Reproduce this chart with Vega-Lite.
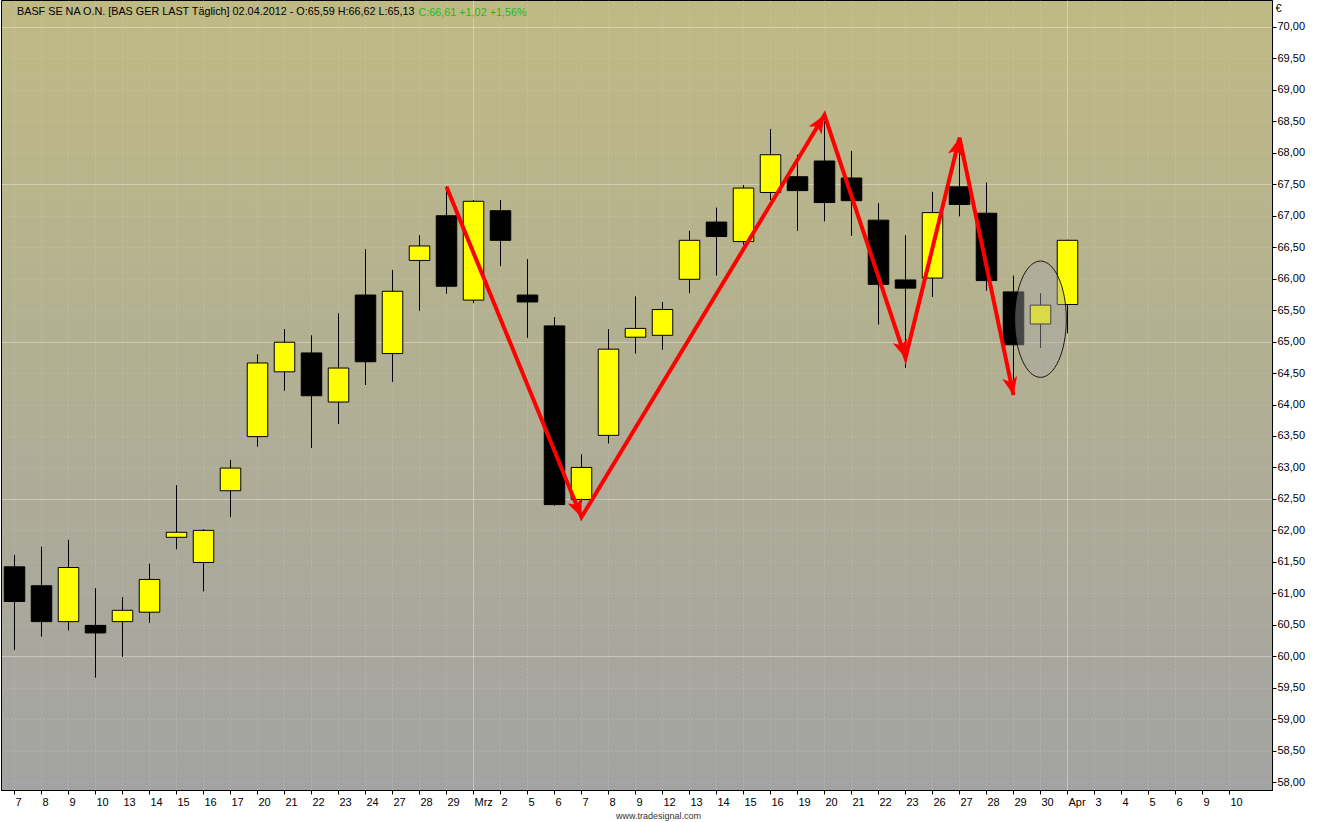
{
  "$schema": "https://vega.github.io/schema/vega-lite/v6.json",
  "width": 1271,
  "height": 790,
  "autosize": {"type": "none"},
  "padding": {"left": 1, "top": 0, "right": 47, "bottom": 32},
  "background": "#ffffff",
  "view": {
    "stroke": "#000000",
    "strokeWidth": 1,
    "fill": {
      "gradient": "linear", "x1": 0, "y1": 0, "x2": 0, "y2": 1,
      "stops": [
        {"offset": 0, "color": "#bfba84"},
        {"offset": 1, "color": "#a3a3a3"}
      ]
    }
  },
  "title": {
    "text": "BASF SE NA O.N. [BAS GER LAST Täglich] 02.04.2012 - O:65,59 H:66,62 L:65,13",
    "anchor": "start", "frame": "group", "offset": 0, "dx": 16, "dy": 26,
    "baseline": "alphabetic",
    "font": "Liberation Sans", "fontSize": 10.8, "fontWeight": "normal", "color": "#000000"
  },
  "datasets": {
    "candles": [
      {"d": "2012-02-07", "o": 61.42, "h": 61.61, "l": 60.10, "c": 60.87},
      {"d": "2012-02-08", "o": 61.12, "h": 61.74, "l": 60.31, "c": 60.55},
      {"d": "2012-02-09", "o": 60.55, "h": 61.85, "l": 60.41, "c": 61.41},
      {"d": "2012-02-10", "o": 60.49, "h": 61.08, "l": 59.66, "c": 60.37},
      {"d": "2012-02-13", "o": 60.55, "h": 60.94, "l": 59.99, "c": 60.73},
      {"d": "2012-02-14", "o": 60.70, "h": 61.47, "l": 60.53, "c": 61.22},
      {"d": "2012-02-15", "o": 61.89, "h": 62.72, "l": 61.70, "c": 61.97},
      {"d": "2012-02-16", "o": 61.49, "h": 62.02, "l": 61.03, "c": 62.00},
      {"d": "2012-02-17", "o": 62.63, "h": 63.12, "l": 62.21, "c": 62.99},
      {"d": "2012-02-20", "o": 63.49, "h": 64.80, "l": 63.33, "c": 64.66},
      {"d": "2012-02-21", "o": 64.52, "h": 65.20, "l": 64.22, "c": 64.99},
      {"d": "2012-02-22", "o": 64.82, "h": 65.10, "l": 63.31, "c": 64.14},
      {"d": "2012-02-23", "o": 64.04, "h": 65.45, "l": 63.69, "c": 64.58},
      {"d": "2012-02-24", "o": 65.74, "h": 66.47, "l": 64.31, "c": 64.68},
      {"d": "2012-02-27", "o": 64.81, "h": 66.14, "l": 64.36, "c": 65.80},
      {"d": "2012-02-28", "o": 66.29, "h": 66.69, "l": 65.49, "c": 66.52},
      {"d": "2012-02-29", "o": 67.00, "h": 67.47, "l": 65.76, "c": 65.88},
      {"d": "2012-03-01", "o": 65.66, "h": 67.25, "l": 65.61, "c": 67.23},
      {"d": "2012-03-02", "o": 67.08, "h": 67.25, "l": 66.20, "c": 66.61},
      {"d": "2012-03-05", "o": 65.74, "h": 66.31, "l": 65.06, "c": 65.63},
      {"d": "2012-03-06", "o": 65.25, "h": 65.39, "l": 62.39, "c": 62.41},
      {"d": "2012-03-07", "o": 62.49, "h": 63.21, "l": 62.45, "c": 63.00},
      {"d": "2012-03-08", "o": 63.51, "h": 65.20, "l": 63.38, "c": 64.88},
      {"d": "2012-03-09", "o": 65.07, "h": 65.72, "l": 64.81, "c": 65.21},
      {"d": "2012-03-12", "o": 65.10, "h": 65.63, "l": 64.87, "c": 65.51},
      {"d": "2012-03-13", "o": 65.99, "h": 66.76, "l": 65.77, "c": 66.61},
      {"d": "2012-03-14", "o": 66.90, "h": 67.13, "l": 66.05, "c": 66.67},
      {"d": "2012-03-15", "o": 66.59, "h": 67.49, "l": 66.54, "c": 67.44},
      {"d": "2012-03-16", "o": 67.37, "h": 68.38, "l": 67.25, "c": 67.97},
      {"d": "2012-03-19", "o": 67.62, "h": 67.97, "l": 66.76, "c": 67.40},
      {"d": "2012-03-20", "o": 67.87, "h": 68.50, "l": 66.91, "c": 67.21},
      {"d": "2012-03-21", "o": 67.60, "h": 68.03, "l": 66.68, "c": 67.24},
      {"d": "2012-03-22", "o": 66.93, "h": 67.20, "l": 65.27, "c": 65.91},
      {"d": "2012-03-23", "o": 65.98, "h": 66.69, "l": 64.58, "c": 65.85},
      {"d": "2012-03-26", "o": 66.01, "h": 67.38, "l": 65.71, "c": 67.05},
      {"d": "2012-03-27", "o": 67.46, "h": 68.20, "l": 66.99, "c": 67.18},
      {"d": "2012-03-28", "o": 67.04, "h": 67.53, "l": 65.81, "c": 65.97},
      {"d": "2012-03-29", "o": 65.79, "h": 66.05, "l": 64.30, "c": 64.95},
      {"d": "2012-03-30", "o": 65.28, "h": 65.77, "l": 64.90, "c": 65.58},
      {"d": "2012-04-02", "o": 65.59, "h": 66.62, "l": 65.13, "c": 66.61}
    ],
    "arrows": [
      {"d": "2012-02-29", "v": 67.46},
      {"d": "2012-03-07", "v": 62.21},
      {"d": "2012-03-20", "v": 68.60},
      {"d": "2012-03-23", "v": 64.74},
      {"d": "2012-03-27", "v": 68.24},
      {"d": "2012-03-29", "v": 64.15}
    ],
    "highlight": [
      {"d": "2012-03-30", "v": 65.356}
    ]
  },
  "resolve": {"axis": {"x": "independent", "y": "independent"}},
  "layer": [
    {
      "data": {"name": "candles"},
      "mark": {"type": "rule", "color": "#000000", "strokeWidth": 1},
      "encoding": {
        "x": {
          "field": "d", "type": "ordinal",
          "scale": {"type": "band", "domain": ["2012-02-07","2012-02-08","2012-02-09","2012-02-10","2012-02-13","2012-02-14","2012-02-15","2012-02-16","2012-02-17","2012-02-20","2012-02-21","2012-02-22","2012-02-23","2012-02-24","2012-02-27","2012-02-28","2012-02-29","2012-03-01","2012-03-02","2012-03-05","2012-03-06","2012-03-07","2012-03-08","2012-03-09","2012-03-12","2012-03-13","2012-03-14","2012-03-15","2012-03-16","2012-03-19","2012-03-20","2012-03-21","2012-03-22","2012-03-23","2012-03-26","2012-03-27","2012-03-28","2012-03-29","2012-03-30","2012-04-02","2012-04-03","2012-04-04","2012-04-05","2012-04-06","2012-04-09","2012-04-10"], "paddingInner": 0, "paddingOuter": 0.537, "align": 0},
          "axis": {
            "orient": "bottom",
            "title": "www.tradesignal.com",
            "titleFont": "Liberation Sans", "titleFontSize": 9, "titleFontWeight": "normal", "titleColor": "#333333",
            "titleX": 657, "titleY": 28, "titleAlign": "center", "titleBaseline": "alphabetic",
            "labelExpr": "datum.value == '2012-03-01' ? 'Mrz' : datum.value == '2012-04-02' ? 'Apr' : '' + toNumber(substring(datum.value, 8, 10))",
            "labelAngle": 0, "labelAlign": "left", "labelOffset": 1, "labelPadding": 2,
            "labelFont": "Liberation Sans", "labelFontSize": 11, "labelColor": "#000000",
            "labelOverlap": false, "labelBound": false, "labelFlush": false,
            "ticks": true, "tickSize": 4, "tickColor": "#000000",
            "domain": true, "domainColor": "#000000",
            "grid": true, "gridColor": "#ffffff", "gridOpacity": 0.25, "gridDash": [1, 3], "gridWidth": 1
          }
        },
        "y": {
          "field": "l", "type": "quantitative",
          "scale": {"domain": [57.874, 70.429], "zero": false, "nice": false},
          "axis": {
            "orient": "right",
            "values": [58, 58.5, 59, 59.5, 60, 60.5, 61, 61.5, 62, 62.5, 63, 63.5, 64, 64.5, 65, 65.5, 66, 66.5, 67, 67.5, 68, 68.5, 69, 69.5, 70],
            "labelExpr": "replace(format(datum.value, '.2f'), '.', ',')",
            "labelFont": "Liberation Sans", "labelFontSize": 11, "labelColor": "#000000",
            "labelPadding": 1, "labelFlush": false, "labelOverlap": false, "labelBound": false,
            "tickSize": 4, "tickColor": "#000000", "domainColor": "#000000",
            "title": "€", "titleAngle": 0, "titleX": 3, "titleY": 8, "titleAlign": "left", "titleBaseline": "middle",
            "titleFont": "Liberation Sans", "titleFontSize": 11, "titleFontWeight": "normal", "titleColor": "#000000",
            "grid": true, "gridColor": "#ffffff", "gridOpacity": 0.25, "gridDash": [1, 3], "gridWidth": 1
          }
        },
        "y2": {"field": "h"}
      }
    },
    {
      "data": {"name": "candles"},
      "mark": {"type": "bar", "stroke": "#000000", "strokeWidth": 1, "width": {"band": 0.76}},
      "encoding": {
        "x": {
          "field": "d", "type": "ordinal",
          "scale": {"type": "band", "domain": ["2012-02-07","2012-02-08","2012-02-09","2012-02-10","2012-02-13","2012-02-14","2012-02-15","2012-02-16","2012-02-17","2012-02-20","2012-02-21","2012-02-22","2012-02-23","2012-02-24","2012-02-27","2012-02-28","2012-02-29","2012-03-01","2012-03-02","2012-03-05","2012-03-06","2012-03-07","2012-03-08","2012-03-09","2012-03-12","2012-03-13","2012-03-14","2012-03-15","2012-03-16","2012-03-19","2012-03-20","2012-03-21","2012-03-22","2012-03-23","2012-03-26","2012-03-27","2012-03-28","2012-03-29","2012-03-30","2012-04-02","2012-04-03","2012-04-04","2012-04-05","2012-04-06","2012-04-09","2012-04-10"], "paddingInner": 0, "paddingOuter": 0.537, "align": 0},
          "axis": {
            "orient": "top",
            "values": ["2012-03-01", "2012-04-02"],
            "labels": false, "ticks": false, "domain": false,
            "title": "C:66,61 +1,02 +1,56%",
            "titleFont": "Liberation Sans", "titleFontSize": 10.8, "titleFontWeight": "normal", "titleColor": "#22b922",
            "titleX": 417, "titleY": 15, "titleAlign": "left", "titleBaseline": "alphabetic", "titleAngle": 0,
            "grid": true, "gridColor": "#ffffff", "gridOpacity": 0.3, "gridWidth": 1
          }
        },
        "y": {
          "field": "o", "type": "quantitative",
          "scale": {"domain": [57.874, 70.429], "zero": false, "nice": false},
          "axis": {
            "orient": "left",
            "values": [60, 62.5, 65, 67.5, 70],
            "labels": false, "ticks": false, "domain": false, "title": null,
            "grid": true, "gridColor": "#ffffff", "gridOpacity": 0.3, "gridWidth": 1
          }
        },
        "y2": {"field": "c"},
        "fill": {
          "condition": {"test": "datum.c >= datum.o", "value": "#ffff00"},
          "value": "#000000"
        }
      }
    },
    {
      "data": {"name": "highlight"},
      "mark": {
        "type": "point",
        "shape": "M-0.444,0 A0.444,1 0 1,1 0.444,0 A0.444,1 0 1,1 -0.444,0 Z",
        "size": 13525,
        "filled": true,
        "fill": "#a6a6a6", "fillOpacity": 0.42,
        "stroke": "#000000", "strokeWidth": 1, "strokeOpacity": 0.85
      },
      "encoding": {
        "x": {"field": "d", "type": "ordinal", "axis": null},
        "y": {"field": "v", "type": "quantitative", "axis": null}
      }
    },
    {
      "data": {"name": "arrows"},
      "mark": {"type": "line", "color": "#ff0000", "strokeWidth": 4, "strokeJoin": "miter"},
      "encoding": {
        "x": {"field": "d", "type": "ordinal", "axis": null},
        "y": {"field": "v", "type": "quantitative", "axis": null}
      }
    },
    {
      "data": {"name": "arrows"},
      "transform": [{"filter": "datum.d != '2012-02-29'"}],
      "mark": {
        "type": "point",
        "shape": "M0,0 L0.42,1 L0,0.75 L-0.42,1 Z",
        "size": 1296,
        "filled": true, "fill": "#ff0000", "fillOpacity": 1, "strokeWidth": 0
      },
      "encoding": {
        "x": {"field": "d", "type": "ordinal", "axis": null},
        "y": {"field": "v", "type": "quantitative", "axis": null},
        "angle": {
          "field": "d", "type": "ordinal", "legend": null,
          "scale": {"type": "ordinal", "domain": ["2012-03-07", "2012-03-20", "2012-03-23", "2012-03-27", "2012-03-29"], "range": [157.6, 31.4, 162.0, 13.8, 167.7]}
        }
      }
    }
  ]
}
